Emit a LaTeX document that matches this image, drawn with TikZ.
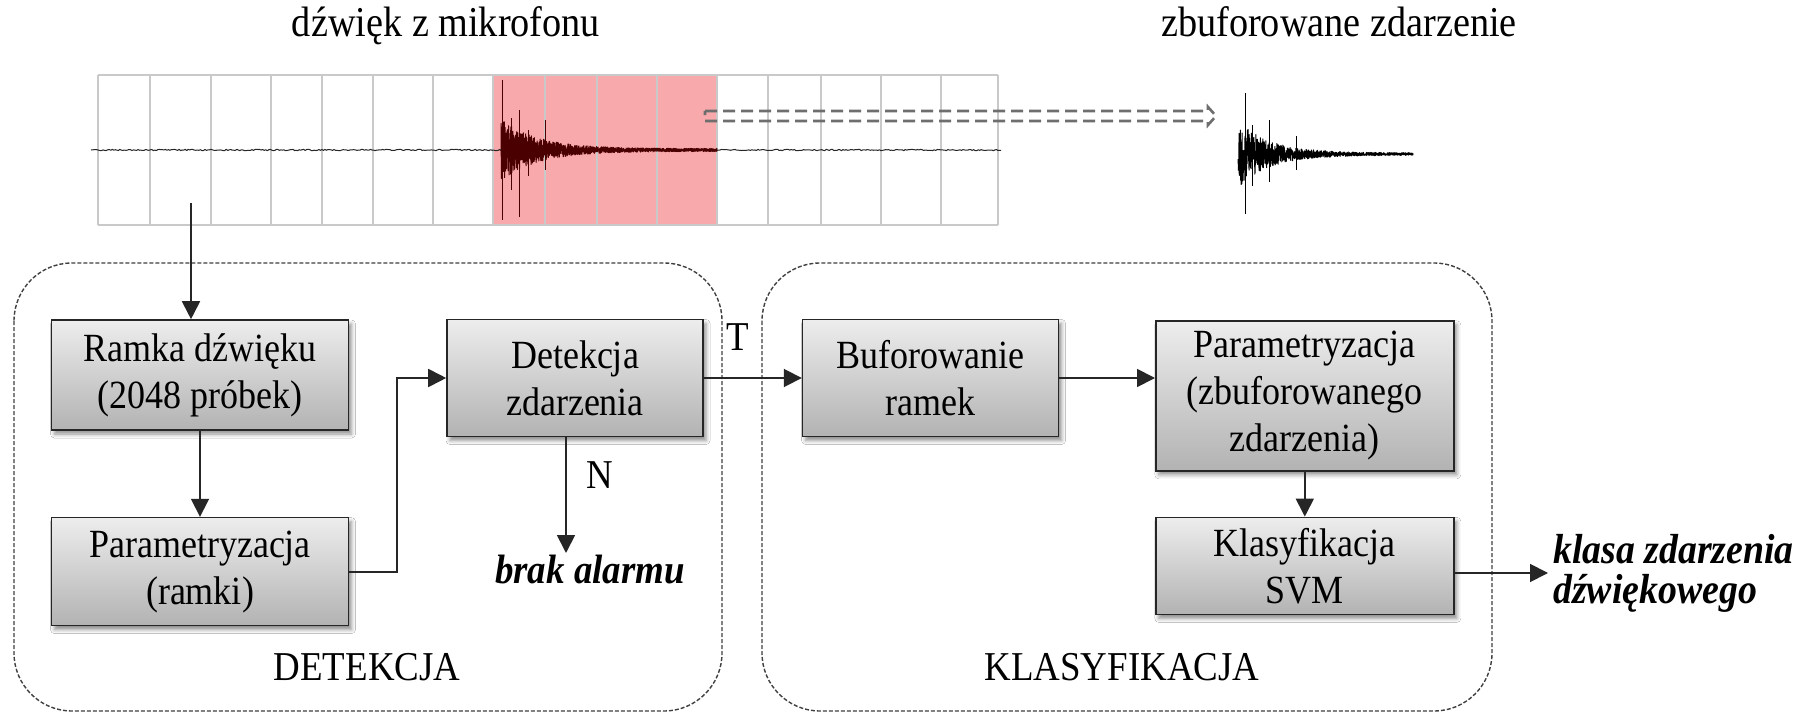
\documentclass[tikz,border=0pt]{standalone}
\usepackage{fontspec}
\setmainfont{Liberation Serif}[FakeStretch=0.9]
\usetikzlibrary{arrows.meta,positioning,shadows.blur}
\definecolor{ZdPink}{HTML}{F8A9AC}
\definecolor{ZdWave}{HTML}{4A0000}
\definecolor{ZdGrid}{HTML}{C9C9C9}
\definecolor{ZdDash}{HTML}{6E6E6E}

\begin{document}
\begin{tikzpicture}[
 x=1pt,y=-1pt,
 box/.style={draw=black!85,line width=1.6pt,top color=black!7,bottom color=black!30,blur shadow={shadow xshift=3pt,shadow yshift=-4pt,shadow blur radius=4pt,shadow opacity=45},align=center,inner sep=0pt,font=\fontsize{40}{47}\selectfont},
 arrow/.style={-{Triangle[length=18pt,width=18pt]},line width=1.8pt,color=black!85},
 obszar/.style={draw=black!75,line width=1.4pt,dash pattern=on 4pt off 2pt,rounded corners=58pt},
 opis/.style={font=\fontsize{41}{47}\selectfont,inner sep=0pt},
 wynik/.style={font=\fontsize{41}{40}\selectfont\bfseries\itshape,align=left,inner sep=0pt},
 siatka/.style={draw=ZdGrid,line width=1.6pt},
 fala/.style={line width=1pt,line join=round}
]
\fill[white] (0,0) rectangle (1810,714);
\useasboundingbox (0,0) rectangle (1810,714);

% sygnal z mikrofonu
\fill[ZdPink] (493,75) rectangle (717,225);
\foreach \x in {98,150,211,271,322,373,433,493,545,597,657,717,768,821,881,941,998}
  \draw[siatka] (\x,75) -- (\x,225);
\draw[siatka] (98,75) -- (998,75) (98,225) -- (998,225);
\pgfmathsetseed{11}
\draw[fala,black!85] plot[domain=91:1001,samples=600] (\x,{150+0.7*rand});
\draw[fala,ZdWave] plot[domain=501:717,samples=1400] (\x,{150+(30*exp(-(\x-501)/36)+1.5)*rand});
\draw[fala,ZdWave] (502,80) -- (502,220) (511,118) -- (511,190) (519,110) -- (519,217) (528,130) -- (528,176) (545,120) -- (545,170);
\node[opis,anchor=base,font=\fontsize{42.5}{47}\selectfont] (mikrofon) at (446,37) {dźwięk z mikrofonu};

% zbuforowane zdarzenie
\draw[ZdDash,line width=2.6pt,dash pattern=on 12pt off 6pt,line join=miter]
  (705,111) -- (1208,111) -- (1208,107) -- (1216,116) -- (1208,125) -- (1208,121) -- (705,121) -- cycle;
\draw[fala,black] plot[domain=1238:1413,samples=1000] (\x,{154+(26*exp(-(\x-1245)/32)+1.2)*rand});
\draw[fala,black] (1245,93) -- (1245,214) (1252,125) -- (1252,186) (1269,120) -- (1269,182) (1296,136) -- (1296,170);
\node[opis,anchor=base,font=\fontsize{42.5}{47}\selectfont] (bufzd) at (1339,37) {zbuforowane zdarzenie};

% obszary
\draw[obszar] (14,263) rectangle (722,711);
\draw[obszar] (762,263) rectangle (1492,711);
\node[opis] (dettxt) at (367,667) {DETEKCJA};
\node[opis] (klastxt) at (1122,667) {KLASYFIKACJA};

% bloki
\node[box,minimum width=297pt,minimum height=110pt] (ramka) at (200,375) {Ramka dźwięku\\(2048 próbek)};
\node[box,minimum width=297pt,minimum height=108pt,below=86pt of ramka] (paramr) {Parametryzacja\\(ramki)};
\node[box,minimum width=256pt,minimum height=117pt] (detekcja) at (575,378) {Detekcja\\zdarzenia};
\node[box,minimum width=256pt,minimum height=117pt,right=98pt of detekcja] (bufor) {Buforowanie\\ramek};
\node[box,minimum width=298pt,minimum height=150pt,anchor=north west] (paramz) at (1155,320) {Parametryzacja\\(zbuforowanego\\zdarzenia)};
\node[box,minimum width=298pt,minimum height=97pt,below=45pt of paramz] (svm) {Klasyfikacja\\SVM};

\node[wynik] (brak) at (590,570) {brak alarmu};
\node[wynik,anchor=west,font=\fontsize{42}{40}\selectfont\bfseries\itshape] (klasa) at (1553,573) {klasa zdarzenia\\dźwiękowego};
\node[opis] (tak) at (738,337) {T};
\node[opis] (nie) at (600,475) {N};

% polaczenia
\coordinate (wej) at (191,203);
\coordinate (nend) at (566,553);
\draw[arrow] (wej) -- (wej |- ramka.north);
\draw[arrow] (ramka) -- (paramr);
\draw[arrow] (paramr.east) -- ++(48,0) |- (detekcja.west);
\draw[arrow] ([xshift=-9pt]detekcja.south) -- (nend);
\draw[arrow] (detekcja) -- (bufor);
\draw[arrow] (bufor.east) -- (bufor.east -| paramz.west);
\draw[arrow] (paramz) -- (svm);
\draw[arrow] (svm.east |- klasa.west) -- ([xshift=-5pt]klasa.west);
\end{tikzpicture}
\end{document}
